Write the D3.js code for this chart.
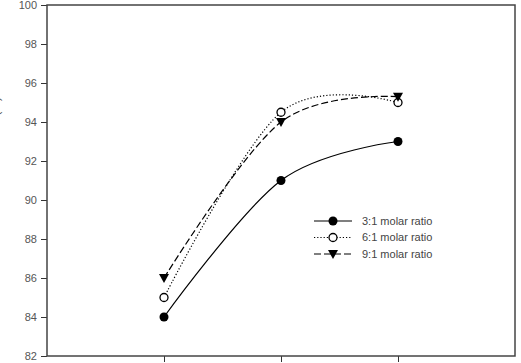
<!DOCTYPE html>
<html lang="en">
<meta charset="utf-8">
<title>Molar ratio chart</title>
<script src="https://d3js.org/d3.v7.min.js"></script>
<style>
  body { margin: 0; background: #fff; }
  text { font-family: "Liberation Sans", Arial, sans-serif; }
</style>
<svg width="521" height="363"></svg>
<script>
// data
var categories = [1, 2, 3];
var ratio31 = [84, 91, 93];
var ratio61 = [85, 94.5, 95];
var ratio91 = [86, 94, 95.3];
var yTicks = [82, 84, 86, 88, 90, 92, 94, 96, 98, 100];
var seriesNames = ["3:1 molar ratio", "6:1 molar ratio", "9:1 molar ratio"];

var svg = d3.select("svg");
var margin = {top: 5, right: 6, bottom: 7, left: 47};
var width = 521 - margin.left - margin.right;
var height = 363 - margin.top - margin.bottom;
var g = svg.append("g").attr("transform", "translate(" + margin.left + "," + margin.top + ")");

var x = d3.scaleLinear().domain([0, 4]).range([0, width]);
var y = d3.scaleLinear().domain([82, 100]).range([height, 0]);

// axes
var yAxis = g.append("g")
    .call(d3.axisLeft(y).tickValues(yTicks).tickSize(6).tickPadding(4));
yAxis.select(".domain").remove();
yAxis.selectAll("line").attr("stroke", "#333");
yAxis.selectAll("text").attr("fill", "#555").style("font-size", "11px")
    .style("font-family", "'Liberation Sans', Arial, sans-serif");

var xAxis = g.append("g")
    .attr("transform", "translate(0," + height + ")")
    .call(d3.axisBottom(x).tickValues(categories).tickSize(6).tickFormat(""));
xAxis.select(".domain").remove();
xAxis.selectAll("line").attr("stroke", "#333");

// frame
g.append("rect")
    .attr("width", width).attr("height", height)
    .attr("fill", "none").attr("stroke", "#444").attr("stroke-width", 1.5);

// y label, mostly off the left edge
svg.append("text")
    .attr("transform", "rotate(-90)")
    .attr("x", -97).attr("y", -1)
    .attr("text-anchor", "end")
    .style("font-size", "12px").attr("fill", "#555")
    .text("Yield (%)");

var series = [
  {name: seriesNames[0], values: ratio31, dash: null, marker: "filled"},
  {name: seriesNames[1], values: ratio61, dash: "1.2,2", marker: "open"},
  {name: seriesNames[2], values: ratio91, dash: "7,3", marker: "tri"}
];

var line = d3.line()
    .x(function(d, i) { return x(categories[i]); })
    .y(function(d) { return y(d); })
    .curve(d3.curveCardinal.tension(0));

function drawMarker(sel, type) {
  if (type === "filled") {
    sel.append("circle").attr("r", 4.5).attr("fill", "#000");
  } else if (type === "open") {
    sel.append("circle").attr("r", 4).attr("fill", "#fff")
      .attr("stroke", "#000").attr("stroke-width", 1.3);
  } else {
    sel.append("path").attr("d", "M-5,-4L5,-4L0,5Z").attr("fill", "#000");
  }
}

series.forEach(function(s) {
  g.append("path")
      .attr("d", line(s.values))
      .attr("fill", "none")
      .attr("stroke", "#000")
      .attr("stroke-width", 1.2)
      .attr("stroke-dasharray", s.dash);
});

series.forEach(function(s) {
  g.selectAll(null)
    .data(s.values)
    .enter().append("g")
      .attr("transform", function(d, i) { return "translate(" + x(categories[i]) + "," + y(d) + ")"; })
      .each(function() { drawMarker(d3.select(this), s.marker); });
});

// legend
var legend = svg.append("g")
  .selectAll("g")
  .data(series)
  .enter().append("g")
    .attr("transform", function(d, i) { return "translate(314," + (221 + i * 16.5) + ")"; });

legend.append("line")
    .attr("x1", 0).attr("x2", 38)
    .attr("stroke", "#000").attr("stroke-width", 1.2)
    .attr("stroke-dasharray", function(d) { return d.dash; });
legend.each(function(d) {
  var m = d3.select(this).append("g").attr("transform", "translate(19,0)");
  drawMarker(m, d.marker);
});
legend.append("text")
    .attr("x", 48).attr("dy", "0.35em")
    .attr("fill", "#444")
    .style("font-size", "11px")
    .text(function(d) { return d.name; });
</script>
</html>
